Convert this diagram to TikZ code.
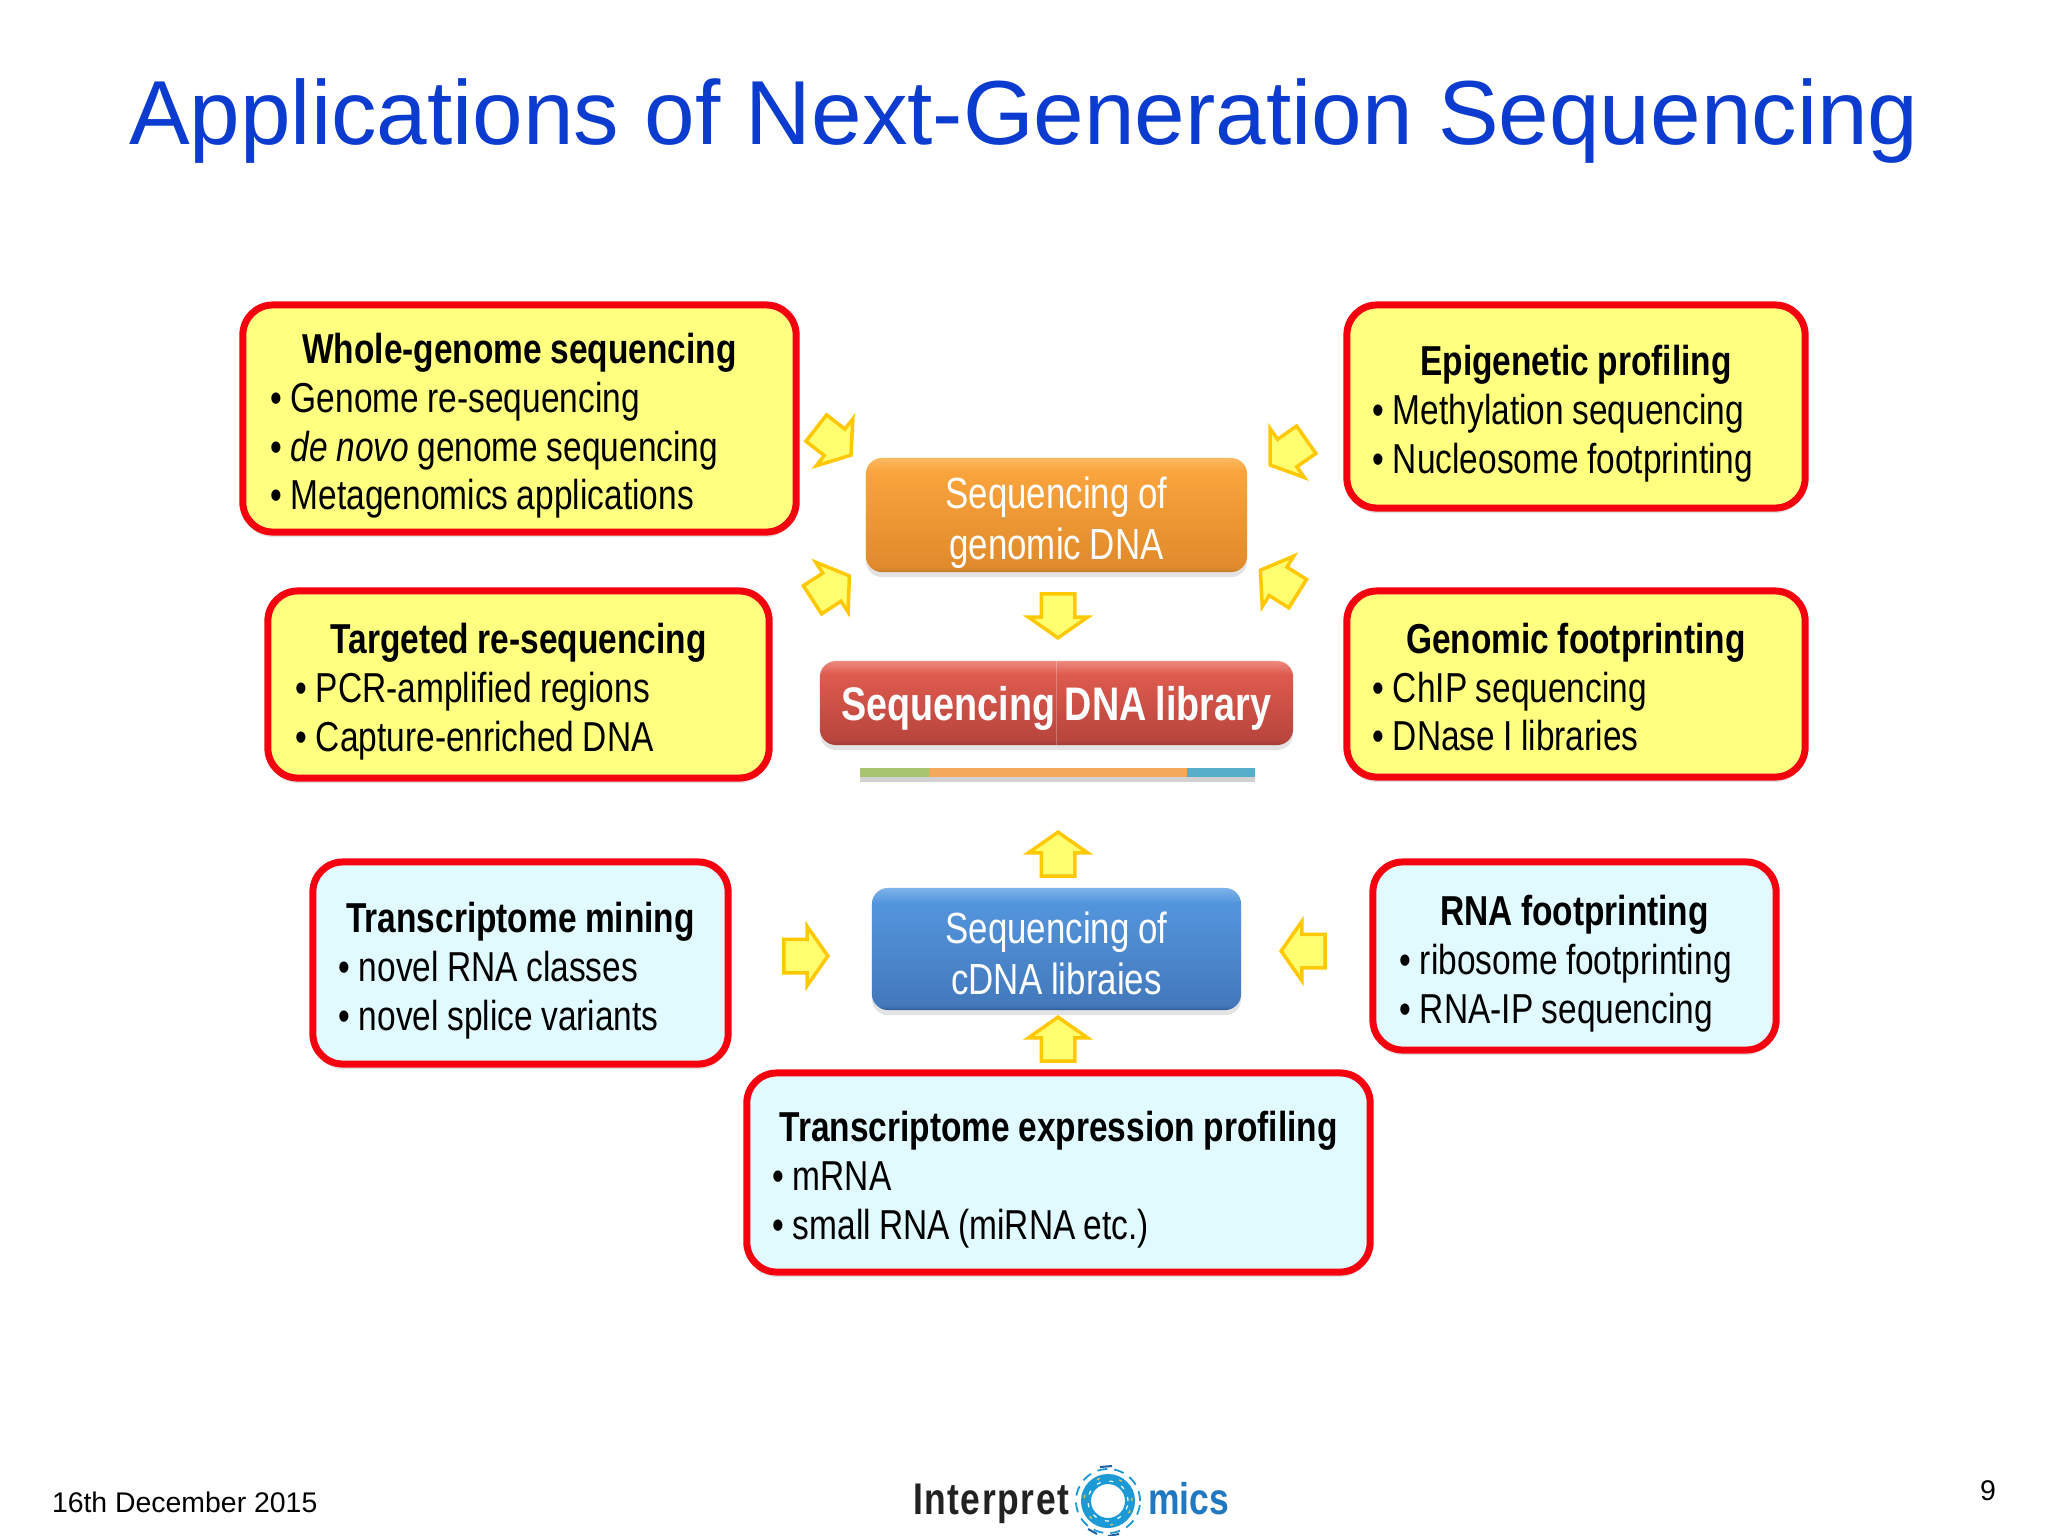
\documentclass[tikz,border=0pt]{standalone}
\usepackage{fontspec}
\usetikzlibrary{shapes.arrows,shadows}
\setmainfont{Liberation Sans}
\newfontfamily\narrowfont[FakeStretch=0.80]{Liberation Sans}
\newfontfamily\logofont[FakeStretch=0.8,LetterSpace=3.5]{Liberation Sans}
\newfontfamily\micsfont[FakeStretch=0.8]{Liberation Sans}
\definecolor{titleblue}{HTML}{0B3CCF}
\definecolor{boxred}{HTML}{F4000F}
\definecolor{boxyellow}{HTML}{FFFF80}
\definecolor{boxcyan}{HTML}{E0FAFF}
\definecolor{arrowfill}{HTML}{FFFF70}
\definecolor{arrowedge}{HTML}{FFC800}
\definecolor{ringblue}{HTML}{1C9AD6}
\definecolor{ringdark}{HTML}{1F5FA8}
\definecolor{ringyellow}{HTML}{F2C14E}
\definecolor{micsblue}{HTML}{1F78C0}
\definecolor{logodark}{HTML}{222222}
\definecolor{barA}{HTML}{A8C46E}
\definecolor{barB}{HTML}{F3A85C}
\definecolor{barC}{HTML}{56AECB}
\definecolor{oA}{HTML}{C27A2C}\definecolor{oB}{HTML}{E08A2C}\definecolor{oC}{HTML}{F9A43C}\definecolor{oD}{HTML}{FBB862}
\definecolor{rA}{HTML}{A03C36}\definecolor{rB}{HTML}{B8453D}\definecolor{rC}{HTML}{DE5A4E}\definecolor{rD}{HTML}{EE8A80}
\definecolor{bA}{HTML}{2F5F9C}\definecolor{bB}{HTML}{4379BC}\definecolor{bC}{HTML}{5395DC}\definecolor{bD}{HTML}{7DB4EA}
\pgfdeclareverticalshading{orangegloss}{100bp}{color(0bp)=(oA);color(25bp)=(oA);color(27bp)=(oB);color(69bp)=(oC);color(75bp)=(oD);color(100bp)=(oD)}
\pgfdeclareverticalshading{redgloss}{100bp}{color(0bp)=(rA);color(25bp)=(rA);color(28bp)=(rB);color(67bp)=(rC);color(75bp)=(rD);color(100bp)=(rD)}
\pgfdeclareverticalshading{bluegloss}{100bp}{color(0bp)=(bA);color(25bp)=(bA);color(27bp)=(bB);color(69bp)=(bC);color(75bp)=(bD);color(100bp)=(bD)}
\newcommand{\boxhead}[1]{\hbox to\hsize{\hss\bfseries\rule{0pt}{.45cm}#1\hss}\par}
\newcommand{\tightset}{\spaceskip=.2em\relax\hyphenpenalty=10000\relax\parskip=0pt\relax}
\tikzset{
  x=0.01cm,y=-0.01cm,
  softshadow/.style={drop shadow={opacity=.22,shadow xshift=0pt,shadow yshift=-.05cm}},
  textdrop/.style={execute at begin node={\rule{0pt}{#1}}},
  infobox/.style={draw=boxred,line width=.07cm,rounded corners=.3cm,inner sep=0pt,outer sep=0pt,
    softshadow,align=left,text=black,execute at begin node={\tightset},
    font=\narrowfont\fontsize{11.9}{13.9}\selectfont},
  yellowbox/.style={infobox,fill=boxyellow},
  cyanbox/.style={infobox,fill=boxcyan},
  seqbox/.style={rounded corners=.16cm,inner sep=0pt,outer sep=0pt,softshadow,align=center,text=white,
    execute at begin node={\tightset},font=\narrowfont\fontsize{12.4}{14.5}\selectfont},
  flowarrow/.style={single arrow,draw=arrowedge,fill=arrowfill,line width=.035cm,inner xsep=0pt,inner ysep=.15cm,outer sep=0pt,
    minimum height=.44cm,minimum width=.56cm,single arrow head extend=.13cm,single arrow tip angle=110},
  barseg/.style={inner sep=0pt,outer sep=0pt,minimum height=.09cm},
  plaintext/.style={inner sep=0pt,outer sep=0pt,anchor=base},
}
\begin{document}
\begin{tikzpicture}
\useasboundingbox (0,0) rectangle (2048,1536);
\fill[white] (0,0) rectangle (2048,1536);

\node[plaintext,text=titleblue,font=\fontsize{25.86}{30}\selectfont] (title) at (1024,144) {Applications of Next-Generation Sequencing};

\node[yellowbox,minimum width=5.53cm,minimum height=2.27cm,text width=4.97cm] (whole) at (519.5,418.5) {\boxhead{Whole-genome sequencing}• Genome re-sequencing\\• \textit{de novo} genome sequencing\\• Metagenomics applications};
\node[yellowbox,minimum width=5.01cm,minimum height=1.87cm,text width=4.45cm] (targeted) at (518.5,684.5) {\boxhead{Targeted re-sequencing}• PCR-amplified regions\\• Capture-enriched DNA};
\node[cyanbox,minimum width=4.15cm,minimum height=2.02cm,text width=3.63cm] (mining) at (520.5,963) {\boxhead{Transcriptome mining}• novel RNA classes\\• novel splice variants};
\node[yellowbox,minimum width=4.58cm,minimum height=2.03cm,text width=4.06cm] (epi) at (1576,406.5) {\boxhead{Epigenetic profiling}• Methylation sequencing\\• Nucleosome footprinting};
\node[yellowbox,minimum width=4.58cm,minimum height=1.86cm,text width=4.06cm] (footprint) at (1576,684) {\boxhead{Genomic footprinting}• ChIP sequencing\\• DNase I libraries\rule[-.09cm]{0pt}{.1cm}};
\node[cyanbox,minimum width=4.03cm,minimum height=1.88cm,text width=3.49cm] (rnafp) at (1574.5,956) {\boxhead{RNA footprinting}• ribosome footprinting\\• RNA-IP sequencing};
\node[cyanbox,minimum width=6.23cm,minimum height=1.99cm,text width=5.71cm] (expr) at (1058.5,1172.5) {\boxhead{Transcriptome expression profiling}• mRNA\\• small RNA (miRNA etc.)};

\node[seqbox,shading=orangegloss,minimum width=3.81cm,minimum height=1.14cm,text width=3.81cm,textdrop=.47cm] (genomic) at (1056.5,515) {Sequencing of\\genomic DNA};
\node[seqbox,shading=redgloss,minimum width=4.73cm,minimum height=.84cm,text width=4.73cm,textdrop=.44cm,font=\narrowfont\bfseries\fontsize{13.4}{14.5}\selectfont] (library) at (1056.5,703) {Sequencing DNA library};
\draw[white,opacity=.25,line width=.01cm] (library.north) -- (library.south);
\node[seqbox,shading=bluegloss,minimum width=3.69cm,minimum height=1.22cm,text width=3.69cm,textdrop=.40cm] (cdna) at (1056.5,949) {Sequencing of\\cDNA libraies};

\node[barseg,fill=black,opacity=.18,minimum width=3.95cm] (barshadow) at (1057.5,777) {};
\node[barseg,fill=barA,minimum width=.69cm] (barleft) at (894.5,772) {};
\node[barseg,fill=barB,minimum width=2.58cm] (barmid) at (1058,772) {};
\node[barseg,fill=barC,minimum width=.68cm] (barright) at (1221,772) {};

\node[flowarrow,rotate=-38] (a1) at (829,438) {};
\node[flowarrow,rotate=33] (a2) at (826,591) {};
\node[flowarrow,rotate=215] (a3) at (1293,449) {};
\node[flowarrow,rotate=148] (a4) at (1284,585) {};
\node[flowarrow,rotate=-90] (a5) at (1058,610) {};
\node[flowarrow,rotate=90] (a6) at (1058,860) {};
\node[flowarrow,rotate=90] (a7) at (1058,1045) {};
\node[flowarrow,rotate=0] (a8) at (800,956) {};
\node[flowarrow,rotate=180] (a9) at (1309,951) {};

\node[plaintext,anchor=base west,font=\fontsize{8.08}{10}\selectfont] (date) at (52,1512) {16th December 2015};
\node[plaintext,font=\fontsize{8.1}{10}\selectfont] (pagenum) at (1988,1500) {9};

\node[plaintext,anchor=base west,text=logodark,font=\logofont\bfseries\fontsize{12.6}{14}\selectfont] (logoa) at (913,1514) {Interpret};
\node[plaintext,anchor=base west,text=micsblue,font=\micsfont\bfseries\fontsize{12.6}{14}\selectfont] (logob) at (1148,1514) {mics};
\coordinate (ring) at (1108,1501);
\draw[ringblue,line width=.1cm] (ring) circle[radius=.22cm];
\draw[white,line width=.012cm,dash pattern=on .04cm off .09cm] (ring) circle[radius=.2cm];
\draw[ringyellow,line width=.012cm,dash pattern=on .03cm off .2cm] (ring) circle[radius=.24cm];
\draw[ringblue,line width=.018cm,dash pattern=on .1cm off .07cm] (ring) circle[radius=.32cm];
\draw[ringdark,line width=.02cm] (1100,1467) -- (1112,1466);
\draw[ringdark,line width=.02cm] (1088,1529) -- (1097,1534);
\draw[ringdark,line width=.02cm] (1108,1536) -- (1119,1534);
\end{tikzpicture}
\end{document}
